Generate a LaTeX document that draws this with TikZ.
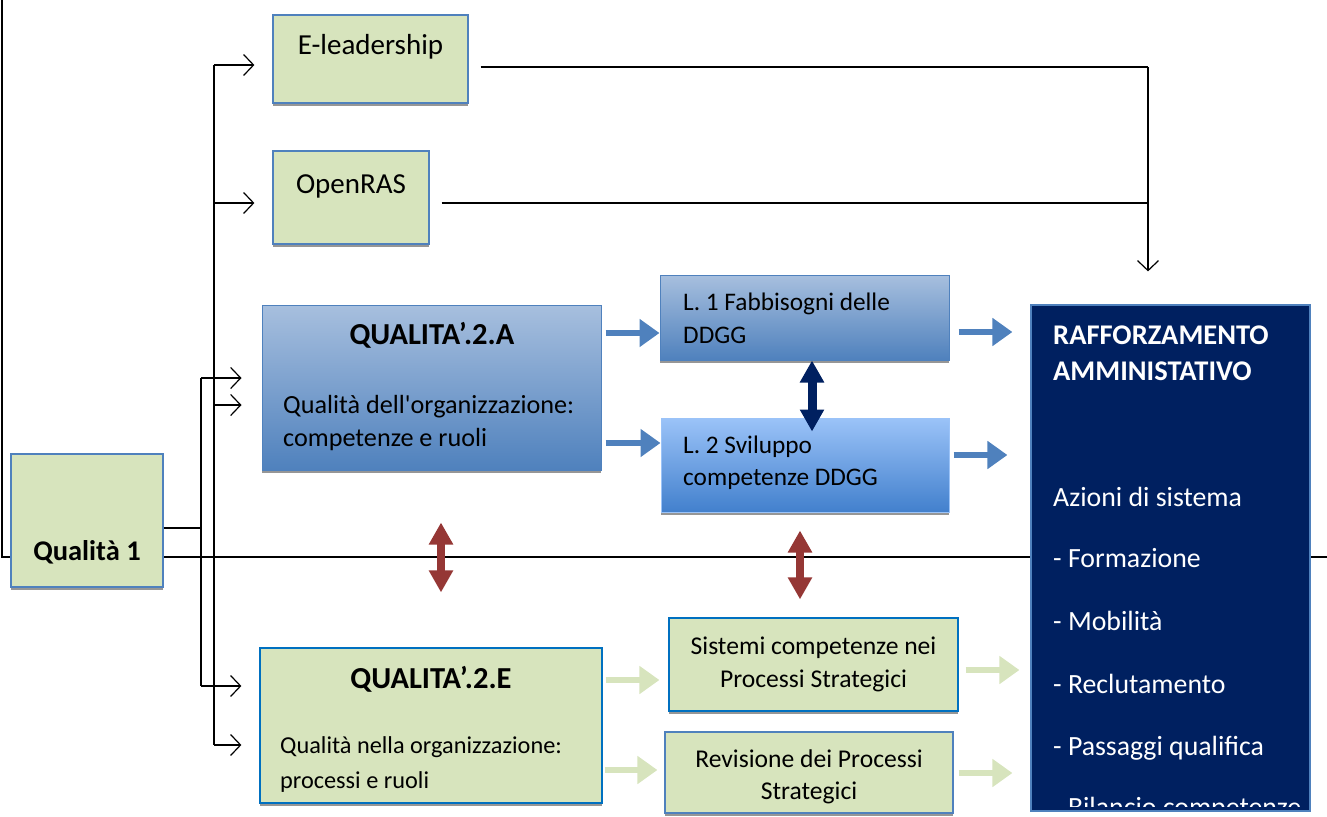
\documentclass[tikz,border=0pt]{standalone}
\usepackage{fontspec}
\setmainfont{Carlito}
\usetikzlibrary{arrows.meta,positioning,shadows,backgrounds}

\definecolor{qgreen}{RGB}{215,228,189}
\definecolor{qedge}{RGB}{79,129,189}
\definecolor{qedgedark}{RGB}{0,112,192}
\definecolor{qnavy}{RGB}{0,32,96}
\definecolor{qred}{RGB}{149,55,53}
\definecolor{qblueA}{RGB}{167,191,222}
\definecolor{qblueB}{RGB}{79,129,189}
\definecolor{qskyA}{RGB}{155,195,248}
\definecolor{qskyB}{RGB}{66,128,205}
\definecolor{qshade}{RGB}{150,150,150}

\tikzset{
  shadowed/.style={drop shadow={shadow xshift=0pt,shadow yshift=-3pt,fill=qshade,opacity=1}},
  greenbox/.style={rectangle, draw=qedge, line width=1.2pt, fill=qgreen, shadowed},
  bluebox/.style={rectangle, draw=qedge, line width=1pt, top color=qblueA, bottom color=qblueB, shadowed},
  skybox/.style={rectangle, draw=qskyA, line width=1pt, top color=qskyA, bottom color=qskyB, shadowed},
  txt/.style={font=\fontsize{#1}{32.5}\selectfont, inner sep=0pt},
  txt/.default=27,
  ttl/.style={font=\fontsize{#1}{36}\selectfont\bfseries, inner sep=0pt},
  ttl/.default=28.5,
  feed/.style={line width=1.2pt},
  feedarrow/.style={feed, -{Straight Barb[length=10pt,width=21pt]}},
  fatblue/.style={draw=qedge, line width=6pt, -{Triangle[length=20pt,width=27pt]}},
  fatgreen/.style={draw=qgreen, line width=6pt, -{Triangle[length=20pt,width=27pt]}},
  twoway/.style={line width=8pt, {Triangle[length=22pt,width=23pt]}-{Triangle[length=22pt,width=23pt]}},
}

\begin{document}
\begin{tikzpicture}[x=1pt,y=-1pt]
\useasboundingbox (0,0) rectangle (1327,816);
\clip (0,0) rectangle (1327,816);
\draw[line width=1.8pt] (2,0) -- (2,557) -- (1327,557);

% left column and bus
\coordinate (busA) at (214,65);
\coordinate (busB) at (214,745);
\coordinate (busC) at (201,378);
\coordinate (busD) at (201,686);
\draw[feed] (busA) -- (busB);
\draw[feed] (busC) -- (busD);

\node[greenbox, minimum width=195pt, minimum height=88pt] (eled) at (370.5,59) {};
\node[greenbox, minimum width=156pt, minimum height=93pt] (ras) at (351,197.5) {};
\node[bluebox, minimum width=339pt, minimum height=165pt] (q2a) at (431.5,387.5) {};
\node[greenbox, minimum width=152pt, minimum height=133pt] (q1) at (87,520.5) {};
\node[greenbox, draw=qedgedark, minimum width=342pt, minimum height=155pt] (q2e) at (431,725.5) {};
\node[bluebox, minimum width=289pt, minimum height=85pt] (l1) at (804.5,317.5) {};
\node[skybox, minimum width=288pt, minimum height=94pt] (l2) at (805,465) {};
\node[greenbox, draw=qedgedark, txt=25.6, align=center, minimum width=289pt, minimum height=93pt] (sis) at (813.5,664.5) {Sistemi competenze nei\\Processi Strategici};
\node[greenbox, minimum width=288pt, minimum height=81pt] (rev) at (809,772.5) {};
\node[rectangle, draw=qedge, line width=1.2pt, fill=qnavy, minimum width=279pt, minimum height=506pt] (raf) at (1170.5,558) {};

\node[txt=29, anchor=base] (eled-t) at (370.5,55) {E-leadership};
\node[txt=29, anchor=base] (ras-t) at (351,193) {OpenRAS};
\node[ttl=30.5, anchor=base] (q2a-t) at (432,344) {QUALITA’.2.A};
\node[txt=26.2, anchor=base west] (q2a-a) at (283,413) {Qualità dell\textquotesingle organizzazione:};
\node[txt=26.2, anchor=base west] (q2a-b) at (283,446) {competenze e ruoli};
\node[txt=25.3, anchor=base west] (l1-a) at (683,310) {L. 1 Fabbisogni delle};
\node[txt=25.3, anchor=base west] (l1-b) at (683,343) {DDGG};
\node[txt=25.3, anchor=base west] (l2-a) at (683,453) {L. 2 Sviluppo};
\node[txt=25.3, anchor=base west] (l2-b) at (683,485) {competenze DDGG};
\node[ttl, anchor=base] (q1-t) at (87,560) {Qualità 1};
\node[ttl=30.5, anchor=base] (q2e-t) at (431,688) {QUALITA’.2.E};
\node[txt=24.3, anchor=base west] (q2e-a) at (280,753) {Qualità nella organizzazione:};
\begin{scope}
\clip (q2e.north west) rectangle ([yshift=11pt]q2e.south east);
\node[txt=24.3, anchor=base west] (q2e-b) at (280,788) {processi e ruoli};
\end{scope}
\node[txt=25.6, align=center] (rev-t) at (809,777) {Revisione dei Processi\\Strategici};

\node[ttl, text=white, anchor=base west] (raf-a) at (1053,344) {RAFFORZAMENTO};
\node[ttl, text=white, anchor=base west] (raf-b) at (1053,380) {AMMINISTATIVO};
\node[txt=27.8, text=white, anchor=base west] (raf-c) at (1053,506) {Azioni di sistema};
\node[txt=27.8, text=white, anchor=base west] (raf-d) at (1053,567) {- Formazione};
\node[txt=27.8, text=white, anchor=base west] (raf-e) at (1053,630) {- Mobilità};
\node[txt=27.8, text=white, anchor=base west] (raf-f) at (1053,693) {- Reclutamento};
\node[txt=27.8, text=white, anchor=base west] (raf-g) at (1053,755) {- Passaggi qualifica};
\begin{scope}
\clip (raf.north west) rectangle ([yshift=5pt]raf.south east);
\node[txt=27.8, text=white, anchor=base west] (raf-h) at (1053,816) {- Bilancio competenze};
\end{scope}

% arrows from the bus
\coordinate (q1out) at ([yshift=-7.5pt]q1.east);
\draw[feed] (q1out) -- (q1out -| busC);
\coordinate (rasin) at ([yshift=-5.5pt]ras.west);
\coordinate (q2ain) at ([yshift=-17.5pt]q2a.west);
\draw[feedarrow, shorten >=18pt] (busA) -- (busA -| eled.west);
\draw[feedarrow, shorten >=18pt] (busA |- rasin) -- (rasin);
\draw[feedarrow, shorten >=20pt] (busC) -- (busC -| q2a.west);
\draw[feedarrow, shorten >=20pt] (busA |- q2ain) -- (q2ain);
\draw[feedarrow, shorten >=18pt] (busD) -- (busD -| q2e.west);
\draw[feedarrow, shorten >=18pt] (busB) -- (busB -| q2e.west);

% feedback into the right box
\coordinate (eledout) at ([yshift=-8pt]eled.east);
\coordinate (rasout) at ([yshift=-5.5pt]ras.east);
\coordinate (join) at (1148,67);
\draw[feed, shorten <=12pt] (eledout) -- (join);
\draw[feed, shorten <=12pt] (rasout) -- (rasout -| join);
\draw[feedarrow, shorten >=33pt] (join) -- (join |- raf.north);

% block arrows
\coordinate (l1in) at ([yshift=-15.5pt]l1.west);
\coordinate (l2in) at ([yshift=22pt]l2.west);
\coordinate (l1out) at ([yshift=-14.5pt]l1.east);
\coordinate (l2out) at ([yshift=10pt]l2.east);
\draw[fatblue, shorten <=4pt] (l1in -| q2a.east) -- (l1in);
\draw[fatblue, shorten <=4pt] (l2in -| q2a.east) -- (l2in);
\draw[fatblue, shorten <=9pt, shorten >=18pt] (l1out) -- (l1out -| raf.west);
\draw[fatblue, shorten <=4pt, shorten >=23pt] (l2out) -- (l2out -| raf.west);
\coordinate (sisin) at ([yshift=-15.5pt]sis.west);
\coordinate (revin) at ([yshift=2.5pt]rev.west);
\coordinate (sisout) at ([yshift=-5.5pt]sis.east);
\coordinate (revout) at ([yshift=-0.5pt]rev.east);
\draw[fatgreen, shorten <=3pt, shorten >=9pt] (sisin -| q2e.east) -- (sisin);
\draw[fatgreen, shorten <=2pt, shorten >=7pt] (revin -| q2e.east) -- (revin);
\draw[fatgreen, shorten <=7pt, shorten >=11pt] (sisout) -- (sisout -| raf.west);
\draw[fatgreen, shorten <=5pt, shorten >=18pt] (revout) -- (revout -| raf.west);

% double arrows
\coordinate (lmid) at ([xshift=7.5pt]l1.south);
\coordinate (qmid) at ([xshift=9.5pt]q2a.south);
\coordinate (smid) at ([xshift=-5pt]l2.south);
\draw[twoway, qnavy, line width=9pt, shorten >=-14pt] (lmid) -- (lmid |- l2.north);
\draw[twoway, qred, shorten <=52pt, shorten >=55pt] (qmid) -- (qmid |- q2e.north);
\draw[twoway, qred, shorten <=18pt, shorten >=18pt] (smid) -- (smid |- sis.north);
\end{tikzpicture}
\end{document}
